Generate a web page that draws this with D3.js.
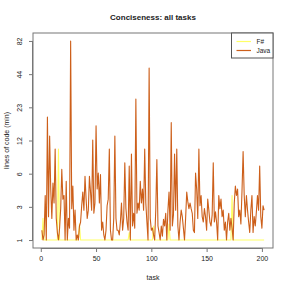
<!DOCTYPE html>
<html>
<head>
<meta charset="utf-8">
<script src="https://cdn.jsdelivr.net/npm/d3@7.9.0/dist/d3.min.js"></script>
<style>
  body { margin: 0; background: #fff; }
  svg text { font-family: "Liberation Sans", Arial, sans-serif; fill: #222; }
</style>
</head>
<body>
<div id="chart"></div>
<script>
// ---- data ----
const title = 'Conciseness: all tasks';
const xLabel = 'task';
const yLabel = 'lines of code (min)';
const seriesNames = ['F#', 'Java'];
const seriesColors = ['#ffff66', '#cd5f1a'];

// Java, tasks 1..202
const javaLoc = [
  1.4, 1, 1.2, 3.6, 1, 19, 2.1, 13, 4.2, 2,
  4.8, 3, 10, 2, 1.3, 1, 1.5, 2.6, 6.5, 3.3,
  3.6, 1, 5, 1, 2, 1.5, 82, 2.6, 4.5, 1.4,
  2.5, 1, 1.2, 1, 1.6, 1.8, 2.8, 3.9, 2.5, 5.6,
  3.3, 2, 2.5, 5.6, 3.9, 2.5, 12, 2.3, 3, 16,
  4.2, 6, 3, 5.8, 1.4, 1.8, 1.2, 1, 1.4, 2.8,
  3.3, 10, 1.4, 1, 1, 2, 13, 2, 1.4, 1.4,
  1.2, 1.8, 3, 1.4, 2, 7.5, 2.6, 1.8, 1.4, 7,
  1, 9, 1.6, 2.3, 1.5, 27, 2.3, 3, 2.5, 5,
  3, 4.2, 2.5, 10, 3, 1.8, 1, 49, 2, 1.4,
  1.5, 1.2, 1, 2.5, 8, 1.6, 1.3, 1, 1.6, 1.15,
  1.95, 1.6, 2.3, 1, 2.5, 3.9, 1.4, 17, 1.6, 2.2,
  9, 2.5, 10, 1.6, 1, 1.8, 2.5, 2.1, 1.5, 1,
  2, 3.9, 3.1, 2.6, 3, 2.6, 2.3, 1.4, 1.3, 6,
  4.2, 2, 10, 2.8, 3.6, 2.1, 1.8, 2.6, 2.1, 1.4,
  3.3, 2.5, 1.8, 1.6, 2.2, 7.5, 1.8, 2.4, 1.8, 1,
  3.6, 2.6, 3.3, 2.1, 2.5, 1.4, 1.8, 1, 1.8, 2.3,
  1.4, 2, 1.5, 1, 3, 4.5, 3.6, 4.2, 2.1, 2.5,
  1.7, 4, 9.5, 3.6, 2.1, 3.6, 2.5, 1.8, 1.3, 2.5,
  3.6, 1.3, 2.1, 1.6, 2.4, 3.6, 2.5, 7, 2.1, 1.5,
  2.8, 2.5
];
// F# is flat at 1 except a few tasks
const fsharpBumps = new Map([[2, 2], [16, 10], [35, 1.7], [80, 1.3], [102, 1.6], [116, 1.7], [173, 3.6]]);
const fsharpLoc = javaLoc.map((_, i) => fsharpBumps.get(i + 1) ?? 1);

const yTickLabels = ['1', '3', '6', '12', '23', '44', '82'];
const xTicks = [0, 50, 100, 150, 200];

// ---- layout ----
const W = 291, H = 291;
const box = { left: 33, right: 273, top: 33, bottom: 248 };

const svg = d3.select('#chart').append('svg')
  .attr('width', W).attr('height', H);

const tasks = javaLoc.map((_, i) => i + 1);
const [t0, t1] = d3.extent(tasks);
const xPad = 0.04 * (t1 - t0);
const x = d3.scaleLinear().domain([t0 - xPad, t1 + xPad]).range([box.left, box.right]);

// y is log(loc + 1), R style 4% padding
const tr = v => Math.log(v + 1);
const lo = tr(d3.min(fsharpLoc.concat(javaLoc)));
const hi = tr(d3.max(fsharpLoc.concat(javaLoc)));
const yPad = 0.04 * (hi - lo);
const y = d3.scaleLinear().domain([lo - yPad, hi + yPad]).range([box.bottom, box.top]);
const yTickPos = yTickLabels.map((_, i) => lo + i * (hi - lo) / (yTickLabels.length - 1));

// series lines
const line = d3.line().x((d, i) => x(i + 1)).y(d => y(tr(d)));
[fsharpLoc, javaLoc].forEach((vals, k) => {
  svg.append('path')
    .datum(vals)
    .attr('d', line)
    .attr('fill', 'none')
    .attr('stroke', seriesColors[k])
    .attr('stroke-width', 1.1)
    .attr('stroke-linejoin', 'round');
});

// frame
svg.append('rect')
  .attr('x', box.left).attr('y', box.top)
  .attr('width', box.right - box.left).attr('height', box.bottom - box.top)
  .attr('fill', 'none').attr('stroke', '#777').attr('stroke-width', 1);

// x axis
const xAxis = svg.append('g')
  .attr('transform', `translate(0,${box.bottom})`)
  .call(d3.axisBottom(x).tickValues(xTicks).tickSize(4).tickPadding(4));
xAxis.select('.domain').attr('d', `M${x(xTicks[0])},0.5H${x(xTicks[xTicks.length - 1])}`).attr('stroke', '#777');
xAxis.selectAll('.tick line').attr('stroke', '#777');
xAxis.selectAll('text').attr('font-size', 7).attr('fill', '#222');

// y axis (labels parallel to axis, like R)
const yAxis = svg.append('g')
  .attr('transform', `translate(${box.left},0)`)
  .call(d3.axisLeft(y).tickValues(yTickPos).tickFormat((d, i) => yTickLabels[i]).tickSize(4));
yAxis.select('.domain').attr('d', `M-0.5,${y(yTickPos[0])}V${y(yTickPos[yTickPos.length - 1])}`).attr('stroke', '#777');
yAxis.selectAll('.tick line').attr('stroke', '#777');
yAxis.selectAll('.tick text')
  .attr('font-size', 7).attr('fill', '#222')
  .attr('x', null).attr('dy', null)
  .attr('text-anchor', 'middle')
  .attr('transform', 'translate(-11,0) rotate(-90)');

// titles
svg.append('text')
  .attr('x', (box.left + box.right) / 2).attr('y', 19.5)
  .attr('text-anchor', 'middle')
  .attr('font-size', 8).attr('font-weight', 'bold')
  .text(title);

svg.append('text')
  .attr('x', (box.left + box.right) / 2).attr('y', 280)
  .attr('text-anchor', 'middle')
  .attr('font-size', 7)
  .text(xLabel);

svg.append('text')
  .attr('transform', `translate(9,${(box.top + box.bottom) / 2}) rotate(-90)`)
  .attr('text-anchor', 'middle')
  .attr('font-size', 7)
  .text(yLabel);

// legend
const leg = svg.append('g').attr('transform', `translate(231.5,${box.top})`);
leg.append('rect')
  .attr('width', box.right - 231.5).attr('height', 25)
  .attr('fill', '#fff').attr('stroke', '#555').attr('stroke-width', 1);
seriesNames.forEach((name, i) => {
  const ly = 8.5 + i * 9;
  leg.append('line')
    .attr('x1', 5).attr('x2', 19.5).attr('y1', ly).attr('y2', ly)
    .attr('stroke', seriesColors[i]).attr('stroke-width', 1.2);
  leg.append('text')
    .attr('x', 25).attr('y', ly + 2.3)
    .attr('font-size', 6.5)
    .text(name);
});
</script>
</body>
</html>
